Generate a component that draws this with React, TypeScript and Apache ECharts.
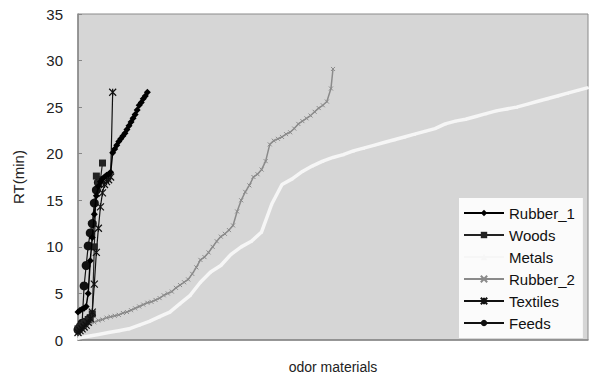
import React, { useEffect, useRef } from "react";
import * as echarts from "echarts";

const seriesNames = ["Rubber_1", "Woods", "Metals", "Rubber_2", "Textiles", "Feeds"];

const rubber1: [number, number][] = [
  [0, 3.0], [1, 3.2], [2, 3.3], [3, 3.4], [4, 3.6], [5, 5.0], [6, 8.5], [7, 11.0], [8, 13.5],
  [9, 15.5], [10, 16.5], [11, 17.0], [12, 17.3], [13, 17.5], [14, 17.7], [15, 17.8], [16, 18.0],
  [17, 20.1], [18, 20.5], [19, 20.9], [20, 21.3], [21, 21.6], [22, 21.9], [23, 22.2], [24, 22.6],
  [25, 23.0], [26, 23.4], [27, 23.8], [28, 24.2], [29, 24.7], [30, 25.2], [31, 25.5], [32, 25.9],
  [33, 26.2], [34, 26.6],
];

const woods: [number, number][] = [
  [0, 1.2], [1, 1.4], [2, 1.6], [3, 1.8], [4, 2.0], [5, 2.2], [6, 2.4], [7, 2.8], [8, 10.0],
  [9, 17.6], [10, 16.8], [11, 17.2], [12, 19.0],
];

const metals: [number, number][] = [
  [0, 0.2], [5, 0.4], [10, 0.6], [15, 0.8], [20, 1.0], [25, 1.2], [30, 1.6], [35, 2.0], [40, 2.5],
  [45, 3.0], [50, 3.9], [55, 4.8], [60, 6.2], [65, 7.3], [70, 8.0], [75, 9.2], [80, 10.0], [85, 10.6],
  [90, 11.6], [95, 14.6], [100, 16.7], [105, 17.3], [110, 18.1], [115, 18.7], [120, 19.2], [125, 19.6],
  [130, 19.9], [135, 20.3], [140, 20.6], [145, 20.9], [150, 21.2], [155, 21.5], [160, 21.8], [165, 22.1],
  [170, 22.4], [175, 22.7], [180, 23.2], [185, 23.5], [190, 23.7], [195, 24.0], [200, 24.3], [205, 24.6],
  [210, 24.8], [215, 25.0], [220, 25.3], [225, 25.6], [230, 25.9], [235, 26.2], [240, 26.5], [245, 26.8],
  [250, 27.1],
];

const rubber2: [number, number][] = [
  [0, 1.4], [2, 1.6], [4, 1.7], [6, 1.8], [8, 1.9], [10, 2.1], [12, 2.2], [14, 2.4], [16, 2.5],
  [18, 2.6], [20, 2.7], [22, 2.9], [24, 3.0], [26, 3.2], [28, 3.4], [30, 3.6], [32, 3.8], [34, 4.0],
  [36, 4.1], [38, 4.3], [40, 4.5], [42, 4.8], [44, 5.0], [46, 5.2], [48, 5.6], [50, 5.9], [52, 6.2],
  [54, 6.5], [56, 7.1], [58, 7.8], [60, 8.6], [62, 8.9], [64, 9.4], [66, 10.0], [68, 10.6], [70, 11.1],
  [72, 11.4], [74, 11.8], [76, 12.3], [78, 13.8], [80, 15.0], [82, 15.9], [84, 16.6], [86, 17.5],
  [88, 17.8], [90, 18.3], [92, 19.2], [94, 21.0], [96, 21.4], [98, 21.6], [100, 21.8], [102, 22.1],
  [104, 22.3], [106, 22.7], [108, 23.2], [110, 23.5], [112, 23.8], [114, 24.1], [116, 24.5],
  [118, 24.9], [120, 25.2], [122, 25.6], [124, 27.0], [125, 29.1],
];

const textiles: [number, number][] = [
  [0, 0.8], [1, 1.0], [2, 1.2], [3, 1.4], [4, 1.6], [5, 1.9], [6, 2.3], [7, 3.0], [8, 6.0],
  [9, 9.4], [10, 12.0], [11, 14.3], [12, 15.8], [13, 16.7], [14, 17.0], [15, 17.2], [16, 17.5],
  [17, 26.6],
];

const feeds: [number, number][] = [
  [0, 1.1], [1, 1.4], [2, 1.8], [3, 5.8], [4, 8.0], [5, 10.1], [6, 11.5], [7, 12.5], [8, 14.7],
  [9, 16.1], [10, 16.9],
];

const yTicks = { min: 0, max: 35, interval: 5 };
const xRange = { min: 0, max: 250 };

const FONT = "Liberation Sans, Arial, sans-serif";
const X_SYMBOL = "path://M0,0L10,10M10,0L0,10";
const STAR_SYMBOL = "path://M0,0L10,10M10,0L0,10M5,0L5,10";

export default function App() {
  const ref = useRef<HTMLDivElement>(null);
  useEffect(() => {
    if (!ref.current) return;
    const chart = echarts.init(ref.current, undefined, { renderer: "svg" });
    const mk = (name: string, data: [number, number][], opts: any) => ({
      name,
      type: "line",
      data,
      symbolSize: opts.size,
      symbol: opts.symbol,
      lineStyle: { color: opts.color, width: opts.width },
      itemStyle: {
        color: opts.fill ?? opts.color,
        borderColor: opts.color,
        borderWidth: opts.border ?? 0,
      },
      z: opts.z,
    });
    chart.setOption({
      animation: false,
      textStyle: { fontFamily: FONT },
      grid: {
        left: 78,
        right: 3,
        top: 14,
        bottom: 38,
        show: true,
        backgroundColor: "#d6d6d6",
        borderColor: "#8a8a8a",
        borderWidth: 1,
      },
      legend: {
        data: seriesNames,
        orient: "vertical",
        left: 459,
        top: 198,
        width: 128,
        padding: [7, 8, 7, 4],
        itemWidth: 40,
        itemHeight: 8,
        itemGap: 6,
        backgroundColor: "#fbfbfb",
        textStyle: { fontSize: 15, lineHeight: 16, color: "#111", fontFamily: FONT },
      },
      xAxis: {
        type: "value",
        min: xRange.min,
        max: xRange.max,
        name: "odor materials",
        nameLocation: "middle",
        nameGap: 20,
        nameTextStyle: { fontSize: 14, color: "#222", fontFamily: FONT },
        axisLine: { show: true, lineStyle: { color: "#888", width: 1.5 } },
        axisTick: { show: false },
        axisLabel: { show: false },
        splitLine: { show: false },
      },
      yAxis: {
        type: "value",
        min: yTicks.min,
        max: yTicks.max,
        interval: yTicks.interval,
        name: "RT(min)",
        nameLocation: "middle",
        nameGap: 52,
        nameTextStyle: { fontSize: 15, color: "#222", fontFamily: FONT },
        axisLine: { show: true, lineStyle: { color: "#888", width: 1.5 } },
        axisTick: { show: true, inside: true, length: 4, lineStyle: { color: "#888" } },
        axisLabel: { fontSize: 15, color: "#222", margin: 15, fontFamily: FONT },
        splitLine: { show: false },
      },
      series: [
        mk("Metals", metals, { symbol: "triangle", size: 3, color: "#f6f6f6", width: 3.5, z: 2 }),
        mk("Rubber_2", rubber2, { symbol: X_SYMBOL, size: 4, color: "#8a8a8a", width: 1.5, border: 1, fill: "none", z: 3 }),
        mk("Feeds", feeds, { symbol: "circle", size: 9, color: "#111", width: 1.2, z: 4 }),
        mk("Woods", woods, { symbol: "rect", size: 7, color: "#222", width: 1.2, z: 4 }),
        mk("Textiles", textiles, { symbol: STAR_SYMBOL, size: 7, color: "#111", width: 1.2, border: 1.2, fill: "none", z: 4 }),
        mk("Rubber_1", rubber1, { symbol: "diamond", size: 7, color: "#000", width: 1.5, z: 5 }),
      ],
    });
    return () => chart.dispose();
  }, []);
  return (
    <div
      ref={ref}
      style={{ position: "fixed", left: 0, top: 0, width: 591, height: 379, background: "#fff" }}
    />
  );
}
